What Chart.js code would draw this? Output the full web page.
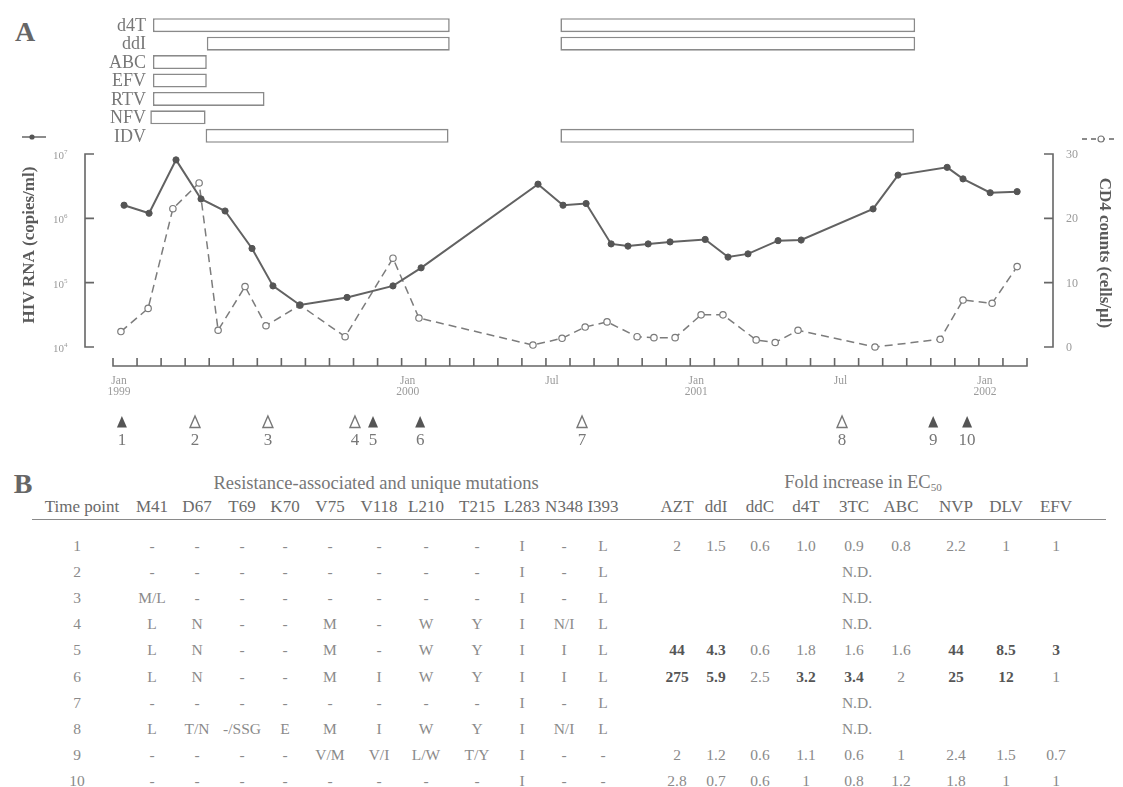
<!DOCTYPE html>
<html>
<head>
<meta charset="utf-8">
<script src="https://cdn.jsdelivr.net/npm/chart.js@4.4.1/dist/chart.umd.min.js"></script>
<style>
  html, body { margin: 0; padding: 0; background: #fff; }
  #page { position: relative; width: 1123px; height: 787px; overflow: hidden;
          font-family: "Liberation Serif", "Times New Roman", serif; color: #666; background: #fff; }
  #drugs { position: absolute; left: 0; top: 0; }
  #main { position: absolute; left: 0; top: 130px; }
  .panel { position: absolute; font-weight: bold; font-size: 28px; color: #666;
           transform: translate(-50%, -50%); line-height: 1; }
  .cell { position: absolute; transform: translate(-50%, -50%); white-space: nowrap; line-height: 1; }
  .title { font-size: 18.5px; color: #777; }
  .head { font-size: 17px; color: #6a6a6a; }
  .val { font-size: 15.5px; color: #8a8a8a; }
  .strong { font-weight: bold; color: #555; }
  .rule { position: absolute; left: 32px; width: 1074px; top: 519px; height: 0; border-top: 1.5px solid #8a8a8a; }
  sub { font-size: 60%; vertical-align: -3px; }
</style>
</head>
<body>
<div id="page">
  <div class="panel" style="left:25px;top:32px">A</div>
  <canvas id="drugs" width="1123" height="150" style="width:1123px;height:150px"></canvas>
  <canvas id="main" width="1123" height="330" style="width:1123px;height:330px"></canvas>
  <div class="panel" style="left:23px;top:484px">B</div>
  <div id="table"></div>
  <div class="rule"></div>
</div>
<script>
// ---- Time axis: months since 1 Jan 1999 ----
const dateTickMonths = [0, 12, 18, 24, 30, 36];
const dateTickLabels = [['Jan', '1999'], ['Jan', '2000'], ['Jul'], ['Jan', '2001'], ['Jul'], ['Jan', '2002']];

// ---- Antiretroviral regimens (start, stop in months) ----
const drugNames = ['d4T', 'ddI', 'ABC', 'EFV', 'RTV', 'NFV', 'IDV'];
const drugCourse1 = [[1.66, 14.0], [3.9, 14.0], [1.66, 3.9], [1.66, 3.9], [1.66, 6.3], [1.55, 3.85], [3.85, 13.95]];
const drugCourse2 = [[18.6, 33.35], [18.6, 33.35], null, null, null, null, [18.6, 33.3]];

// ---- Plasma HIV RNA (copies/ml) ----
const rnaMonths = [0.46, 1.50, 2.62, 3.66, 4.66, 5.78, 6.65, 7.77, 9.73, 11.64, 12.81, 17.67, 18.71, 19.67,
                   20.71, 21.41, 22.25, 23.16, 24.62, 25.57, 26.40, 27.65, 28.61, 31.60, 32.64, 34.68, 35.34,
                   36.47, 37.59];
const rnaCopies = [1.6e6, 1.2e6, 8.1e6, 2.0e6, 1.3e6, 3.4e5, 8.9e4, 4.5e4, 5.9e4, 8.9e4, 1.7e5, 3.4e6, 1.6e6, 1.7e6,
                   4.0e5, 3.7e5, 4.0e5, 4.3e5, 4.7e5, 2.5e5, 2.8e5, 4.5e5, 4.6e5, 1.4e6, 4.7e6, 6.2e6, 4.1e6,
                   2.5e6, 2.6e6];
const rnaTicks = [1e4, 1e5, 1e6, 1e7];

// ---- CD4 counts (cells/µl) ----
const cd4Months = [0.33, 1.46, 2.49, 3.58, 4.37, 5.49, 6.36, 7.77, 9.65, 11.64, 12.72, 17.46, 18.67, 19.63,
                   20.54, 21.79, 22.49, 23.37, 24.45, 25.36, 26.74, 27.53, 28.48, 31.68, 34.39, 35.34, 36.55, 37.59];
const cd4Counts = [2.4, 6.0, 21.5, 25.5, 2.6, 9.4, 3.3, 6.5, 1.6, 13.8, 4.5, 0.3, 1.35, 3.1,
                   3.9, 1.6, 1.45, 1.45, 5.0, 5.0, 1.1, 0.7, 2.6, 0, 1.2, 7.3, 6.8, 12.5];
const cd4Ticks = [0, 10, 20, 30];

// ---- Sampling time points ----
const tpLabels = ['1', '2', '3', '4', '5', '6', '7', '8', '9', '10'];
const tpMonths = [0.37, 3.41, 6.44, 10.06, 10.81, 12.77, 19.50, 30.31, 34.10, 35.51];

// ---- Panel B: genotype ----
const mutationHeaders = ['M41', 'D67', 'T69', 'K70', 'V75', 'V118', 'L210', 'T215', 'L283', 'N348', 'I393'];
const mutationRows = [
  ['-', '-', '-', '-', '-', '-', '-', '-', 'I', '-', 'L'],
  ['-', '-', '-', '-', '-', '-', '-', '-', 'I', '-', 'L'],
  ['M/L', '-', '-', '-', '-', '-', '-', '-', 'I', '-', 'L'],
  ['L', 'N', '-', '-', 'M', '-', 'W', 'Y', 'I', 'N/I', 'L'],
  ['L', 'N', '-', '-', 'M', '-', 'W', 'Y', 'I', 'I', 'L'],
  ['L', 'N', '-', '-', 'M', 'I', 'W', 'Y', 'I', 'I', 'L'],
  ['-', '-', '-', '-', '-', '-', '-', '-', 'I', '-', 'L'],
  ['L', 'T/N', '-/SSG', 'E', 'M', 'I', 'W', 'Y', 'I', 'N/I', 'L'],
  ['-', '-', '-', '-', 'V/M', 'V/I', 'L/W', 'T/Y', 'I', '-', '-'],
  ['-', '-', '-', '-', '-', '-', '-', '-', 'I', '-', '-']
];

// ---- Panel B: phenotype, fold increase in EC50 (null = not done) ----
const foldHeaders = ['AZT', 'ddI', 'ddC', 'd4T', '3TC', 'ABC', 'NVP', 'DLV', 'EFV'];
const foldRows = [
  ['2', '1.5', '0.6', '1.0', '0.9', '0.8', '2.2', '1', '1'],
  null, null, null,
  ['44', '4.3', '0.6', '1.8', '1.6', '1.6', '44', '8.5', '3'],
  ['275', '5.9', '2.5', '3.2', '3.4', '2', '25', '12', '1'],
  null, null,
  ['2', '1.2', '0.6', '1.1', '0.6', '1', '2.4', '1.5', '0.7'],
  ['2.8', '0.7', '0.6', '1', '0.8', '1.2', '1.8', '1', '1']
];
// values flagged as reduced susceptibility
const foldResistant = [
  [], [], [], [],
  ['AZT', 'ddI', 'NVP', 'DLV', 'EFV'],
  ['AZT', 'ddI', 'd4T', '3TC', 'NVP', 'DLV'],
  [], [], [], []
];

const SERIF = '"Liberation Serif", "Times New Roman", serif';

// ================= Drug bars =================
const drugLabels = {
  id: 'drugLabels',
  afterDraw(chart) {
    const ctx = chart.ctx, ys = chart.scales.y;
    ctx.save();
    ctx.font = '18px ' + SERIF;
    ctx.fillStyle = '#777';
    ctx.textAlign = 'right';
    ctx.textBaseline = 'middle';
    drugNames.forEach((n, i) => ctx.fillText(n, 146, ys.getPixelForValue(i) + 1));
    ctx.restore();
  }
};

const barStyle = {
  backgroundColor: '#fff', borderColor: '#8a8a8a', borderWidth: 1.6, borderSkipped: false,
  categoryPercentage: 1, barPercentage: 0.76, grouped: false
};

new Chart(document.getElementById('drugs'), {
  type: 'bar',
  data: {
    labels: drugNames,
    datasets: [
      Object.assign({ label: 'course 1', data: drugCourse1 }, barStyle),
      Object.assign({ label: 'course 2', data: drugCourse2 }, barStyle)
    ]
  },
  options: {
    indexAxis: 'y', responsive: false, animation: false, events: [],
    layout: { padding: { left: 113, right: 96, top: 16, bottom: 5 } },
    plugins: { legend: { display: false }, tooltip: { enabled: false } },
    scales: {
      x: { type: 'linear', min: 0, max: 38, display: false },
      y: { type: 'category', display: false }
    }
  },
  plugins: [drugLabels]
});

// ================= Main chart =================
function triangle(ctx, x, y, filled) {
  ctx.beginPath();
  ctx.moveTo(x, y - 6);
  ctx.lineTo(x + 5, y + 5.5);
  ctx.lineTo(x - 5, y + 5.5);
  ctx.closePath();
  if (filled) { ctx.fillStyle = '#555'; ctx.fill(); }
  else { ctx.strokeStyle = '#777'; ctx.lineWidth = 1.4; ctx.stroke(); }
}

const axisDeco = {
  id: 'axisDeco',
  afterDraw(chart) {
    const ctx = chart.ctx;
    const xs = chart.scales.x, yr = chart.scales.yRna, yc = chart.scales.yCd4;
    ctx.save();
    ctx.strokeStyle = '#666';
    ctx.lineWidth = 1.6;

    // left axis (HIV RNA)
    const lx = 85;
    ctx.beginPath();
    ctx.moveTo(lx, yr.getPixelForValue(1e7));
    ctx.lineTo(lx, yr.getPixelForValue(1e4));
    rnaTicks.forEach(v => { const y = yr.getPixelForValue(v); ctx.moveTo(lx - 0.8, y); ctx.lineTo(lx + 9, y); });
    ctx.stroke();
    ctx.fillStyle = '#9a9a9a';
    ctx.textBaseline = 'middle';
    rnaTicks.forEach(v => {
      const y = yr.getPixelForValue(v);
      ctx.font = '11px ' + SERIF; ctx.textAlign = 'left';
      ctx.fillText('10', 53, y + 2);
      ctx.font = '7px ' + SERIF;
      ctx.fillText(String(Math.round(Math.log10(v))), 64, y - 2);
    });

    // right axis (CD4)
    const rx = 1053;
    ctx.beginPath();
    ctx.moveTo(rx, yc.getPixelForValue(30));
    ctx.lineTo(rx, yc.getPixelForValue(0));
    cd4Ticks.forEach(v => { const y = yc.getPixelForValue(v); ctx.moveTo(rx + 0.8, y); ctx.lineTo(rx - 9, y); });
    ctx.stroke();
    ctx.font = '12px ' + SERIF; ctx.textAlign = 'left';
    cd4Ticks.forEach(v => ctx.fillText(String(v), 1066, yc.getPixelForValue(v) + 1));

    // time axis
    const ay = 236;
    ctx.beginPath();
    ctx.moveTo(xs.getPixelForValue(0), ay);
    ctx.lineTo(xs.getPixelForValue(38), ay);
    for (let m = 0; m <= 38; m++) {
      const x = xs.getPixelForValue(m);
      ctx.moveTo(x, ay + 0.8); ctx.lineTo(x, ay - 8);
    }
    ctx.stroke();
    ctx.font = '11.5px ' + SERIF; ctx.textAlign = 'center'; ctx.fillStyle = '#9a9a9a';
    dateTickMonths.forEach((m, i) => {
      const x = xs.getPixelForValue(m) + 6;
      dateTickLabels[i].forEach((t, j) => ctx.fillText(t, x, 251 + j * 11));
    });

    // sampling time points (filled = phenotype available)
    ctx.font = '17px ' + SERIF; ctx.fillStyle = '#777';
    tpMonths.forEach((m, i) => {
      const x = xs.getPixelForValue(m);
      triangle(ctx, x, 292, foldRows[i] !== null);
      ctx.fillStyle = '#777';
      ctx.fillText(tpLabels[i], x, 311);
    });

    // axis titles
    ctx.fillStyle = '#5a5a5a';
    ctx.font = 'bold 17px ' + SERIF;
    ctx.save();
    ctx.translate(30, 115); ctx.rotate(-Math.PI / 2);
    ctx.textAlign = 'center'; ctx.fillText('HIV RNA (copies/ml)', 0, 0);
    ctx.restore();
    ctx.save();
    ctx.translate(1104, 123); ctx.rotate(Math.PI / 2);
    ctx.textAlign = 'center'; ctx.fillText('CD4 counts (cells/µl)', 0, 0);
    ctx.restore();

    // series keys above the axis titles
    ctx.strokeStyle = '#666'; ctx.lineWidth = 1.5;
    ctx.beginPath(); ctx.moveTo(22, 7); ctx.lineTo(46, 7); ctx.stroke();
    ctx.fillStyle = '#555'; ctx.beginPath(); ctx.arc(32, 7, 2.6, 0, Math.PI * 2); ctx.fill();
    ctx.setLineDash([5, 4]);
    ctx.beginPath(); ctx.moveTo(1082, 9); ctx.lineTo(1114, 9); ctx.stroke();
    ctx.setLineDash([]);
    ctx.fillStyle = '#fff'; ctx.strokeStyle = '#777'; ctx.lineWidth = 1.2;
    ctx.beginPath(); ctx.arc(1101, 9, 3, 0, Math.PI * 2); ctx.fill(); ctx.stroke();
    ctx.restore();
  }
};

new Chart(document.getElementById('main'), {
  type: 'line',
  data: {
    datasets: [
      {
        label: 'HIV RNA', yAxisID: 'yRna',
        data: rnaMonths.map((m, i) => ({ x: m, y: rnaCopies[i] })),
        borderColor: '#626262', borderWidth: 2, tension: 0,
        pointRadius: 3.1, pointBackgroundColor: '#555', pointBorderColor: '#555', pointBorderWidth: 1,
        clip: false
      },
      {
        label: 'CD4', yAxisID: 'yCd4',
        data: cd4Months.map((m, i) => ({ x: m, y: cd4Counts[i] })),
        borderColor: '#7c7c7c', borderWidth: 1.5, borderDash: [8, 5], tension: 0,
        pointRadius: 3.2, pointBackgroundColor: '#fff', pointBorderColor: '#7a7a7a', pointBorderWidth: 1.2,
        clip: false
      }
    ]
  },
  options: {
    responsive: false, animation: false, events: [],
    layout: { padding: { left: 113, right: 96, top: 24, bottom: 113 } },
    plugins: { legend: { display: false }, tooltip: { enabled: false } },
    scales: {
      x: { type: 'linear', axis: 'x', min: 0, max: 38, display: false },
      yRna: { type: 'logarithmic', axis: 'y', position: 'left', min: 1e4, max: 1e7, display: false },
      yCd4: { type: 'linear', axis: 'y', position: 'right', min: 0, max: 30, display: false }
    }
  },
  plugins: [axisDeco]
});

// ================= Table (panel B) =================
const table = document.getElementById('table');
function cell(html, x, y, cls) {
  const d = document.createElement('div');
  d.className = 'cell ' + cls;
  d.style.left = x + 'px';
  d.style.top = y + 'px';
  d.innerHTML = html;
  table.appendChild(d);
  return d;
}
const mutX = [152, 197, 242, 285, 330, 379, 426, 477, 522, 564, 603];
const foldX = [677, 716, 760, 806, 854, 901, 956, 1006, 1056];
const rowY0 = 546, rowDy = 26.1;

cell('Resistance-associated and unique mutations', 376, 483, 'title');
cell('Fold increase in EC<sub>50</sub>', 863, 483, 'title');
cell('Time point', 82, 506, 'head');
mutationHeaders.forEach((h, i) => cell(h, mutX[i], 506, 'head'));
foldHeaders.forEach((h, i) => cell(h, foldX[i], 506, 'head'));

tpLabels.forEach((t, r) => {
  const y = rowY0 + r * rowDy;
  cell(t, 77, y, 'val');
  mutationRows[r].forEach((v, c) => cell(v, mutX[c], y, 'val'));
  if (foldRows[r] === null) {
    cell('N.D.', foldX[4] + 3, y, 'val');
  } else {
    foldRows[r].forEach((v, c) => {
      const strong = foldResistant[r].includes(foldHeaders[c]);
      cell(v, foldX[c], y, 'val' + (strong ? ' strong' : ''));
    });
  }
});
</script>
</body>
</html>
